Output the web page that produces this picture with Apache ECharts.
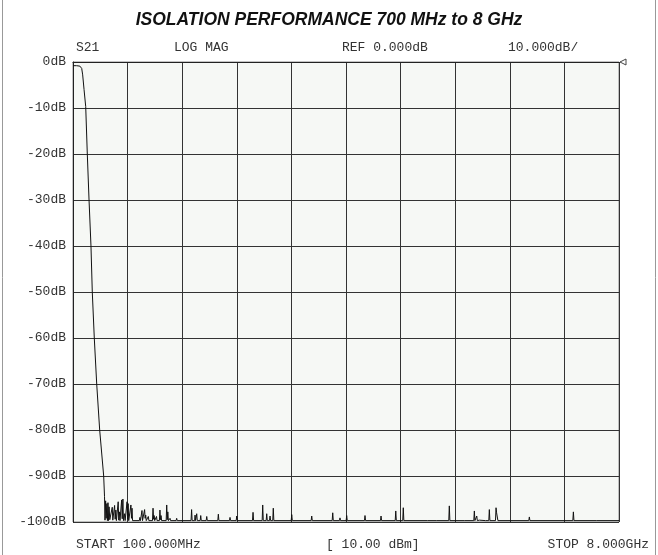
<!DOCTYPE html>
<html><head><meta charset="utf-8">
<script src="https://cdn.jsdelivr.net/npm/echarts@6/dist/echarts.min.js"></script>
<style>html,body{margin:0;padding:0;background:#fff}#c{width:658px;height:555px}</style>
</head><body><div id="c"></div>
<script>
const titleText = 'ISOLATION PERFORMANCE 700 MHz to 8 GHz';
const headerLabels = ['S21', 'LOG MAG', 'REF 0.000dB', '10.000dB/'];
const footerLabels = ['START 100.000MHz', '[ 10.00 dBm]', 'STOP 8.000GHz'];
const yTickValues = [0, -10, -20, -30, -40, -50, -60, -70, -80, -90, -100];
const freqStart = 100, freqStop = 8000, divisions = 10;

const traceFreq = [100,150,200,216,226,240,260,284,307,332,360,379,408,443,486,544,556,563,572,580,590,598,606,614,622,632,660,668,676,694,702,710,720,728,746,754,762,772,780,796,804,812,822,830,846,854,874,882,890,898,906,930,938,946,954,962,1060,1068,1076,1090,1098,1106,1128,1136,1144,1152,1160,1182,1190,1198,1250,1258,1266,1274,1282,1300,1308,1316,1350,1358,1366,1374,1382,1448,1456,1464,1472,1480,1496,1504,1512,1592,1600,1608,1808,1816,1824,1860,1866,1874,1884,1890,1898,1940,1948,1956,2027,2035,2043,2195,2203,2211,2364,2372,2380,2461,2469,2477,2697,2705,2713,2837,2845,2853,2895,2903,2911,2943,2951,2959,2990,2998,3006,3257,3265,3273,3546,3554,3562,3850,3858,3866,3955,3963,3971,4052,4060,4068,4317,4325,4333,4549,4557,4565,4762,4770,4778,4871,4879,4887,5233,5241,5249,5355,5363,5371,5537,5545,5553,5769,5777,5785,5899,5907,5915,5934,5942,5950,5971,5979,5987,6068,6076,6084,6116,6124,6132,6213,6221,6229,6240,6248,6695,6703,6711,7332,7340,7348,7679,7687,7695,8000];
const traceDb = [-0.8,-0.8,-0.9,-0.9,-1.4,-2.8,-6,-9.7,-20,-30,-40,-50,-60,-70,-80,-90,-94.5,-99.6,-95.4,-99.2,-96.0,-99.7,-95.8,-99.7,-96.7,-99.5,-99.7,-96.8,-99.6,-99.7,-96.4,-99.4,-97.4,-99.7,-99.7,-95.6,-99.6,-97.8,-99.7,-99.7,-95.2,-99.3,-95.0,-99.7,-98.2,-99.7,-99.7,-95.6,-99.4,-96.0,-99.7,-99.7,-96.3,-99.2,-97.0,-99.7,-99.7,-99.0,-99.7,-99.7,-97.5,-99.7,-99.7,-97.3,-99.2,-98.5,-99.7,-99.7,-98.8,-99.7,-99.7,-97.0,-99.4,-98.6,-99.7,-99.7,-98.8,-99.7,-99.7,-97.4,-99.5,-98.6,-99.7,-99.7,-96.3,-99.5,-97.8,-99.7,-99.7,-99.2,-99.7,-99.7,-99.2,-99.7,-99.7,-97.3,-99.7,-99.7,-98.5,-99.7,-99.7,-98.2,-99.7,-99.7,-98.6,-99.7,-99.7,-98.8,-99.7,-99.7,-98.3,-99.7,-99.7,-99.0,-99.7,-99.7,-98.7,-99.7,-99.7,-97.9,-99.7,-99.7,-96.3,-99.7,-99.7,-98.2,-99.7,-99.7,-98.7,-99.7,-99.7,-97.0,-99.7,-99.7,-98.4,-99.7,-99.7,-98.7,-99.7,-99.7,-98.0,-99.7,-99.7,-99.1,-99.7,-99.7,-98.6,-99.7,-99.7,-98.6,-99.7,-99.7,-98.7,-99.7,-99.7,-97.6,-99.7,-99.7,-96.9,-99.7,-99.7,-99.3,-99.7,-99.7,-99.3,-99.7,-99.7,-96.5,-99.7,-99.7,-99.3,-99.7,-99.7,-97.6,-99.7,-99.7,-98.7,-99.7,-99.7,-99.6,-99.7,-99.7,-99.3,-99.7,-99.7,-97.3,-99.7,-99.7,-96.9,-98.0,-98.0,-99.7,-99.7,-98.9,-99.7,-99.7,-97.8,-99.7,-99.7,-99.3,-99.7,-99.7];

const mono = 'Liberation Mono, Courier New, monospace';
const chart = echarts.init(document.getElementById('c'), null, {renderer: 'canvas'});
const txt = (s, x, y, align) => ({type: 'text', x: x, y: y, style: {text: s, font: '13px ' + mono, fill: '#333', textAlign: align || 'left', textVerticalAlign: 'middle'}});

chart.setOption({
  animation: false,
  backgroundColor: '#ffffff',
  title: {text: titleText, left: 'center', top: 6, textStyle: {fontFamily: 'Liberation Sans, Arial', fontSize: 17.5, fontWeight: 'bold', fontStyle: 'italic', color: '#111'}},
  grid: {left: 73, right: 39, top: 62, bottom: 33, show: true, backgroundColor: '#f6f8f5', borderColor: '#888', borderWidth: 1},
  xAxis: [
    {type: 'value', min: 0, max: divisions, interval: 1, axisLabel: {show: false}, axisTick: {show: false},
     axisLine: {show: true, lineStyle: {color: '#222', width: 1}},
     splitLine: {show: true, lineStyle: {color: '#333', width: 1}}},
    {type: 'value', min: freqStart, max: freqStop, show: false, position: 'bottom', splitLine: {show: false}}
  ],
  yAxis: {type: 'value', min: -100, max: 0, interval: 10,
    axisLine: {show: true, lineStyle: {color: '#222', width: 1}}, axisTick: {show: false},
    axisLabel: {margin: 7, fontFamily: mono, fontSize: 13, color: '#333', formatter: v => yTickValues.includes(v) ? v + 'dB' : ''},
    splitLine: {show: true, lineStyle: {color: '#333', width: 1}}},
  series: [{
    type: 'line', xAxisIndex: 1, showSymbol: false, symbol: 'none',
    data: traceFreq.map((f, i) => [f, traceDb[i]]),
    lineStyle: {color: '#111', width: 1}, clip: true,
    markPoint: {symbol: 'triangle', symbolSize: [6, 6], symbolRotate: 90, symbolOffset: [4, 0], silent: true,
      label: {show: false}, itemStyle: {color: '#fff', borderColor: '#444', borderWidth: 1},
      data: [{coord: [freqStop, 0]}]}
  }],
  graphic: [
    {type: 'line', shape: {x1: 2.5, y1: 0, x2: 2.5, y2: 555}, style: {stroke: '#999', lineWidth: 1}},
    {type: 'line', shape: {x1: 655.5, y1: 0, x2: 655.5, y2: 555}, style: {stroke: '#999', lineWidth: 1}},
    txt(headerLabels[0], 76, 48), txt(headerLabels[1], 174, 48), txt(headerLabels[2], 342, 48), txt(headerLabels[3], 508, 48),
    txt(footerLabels[0], 76, 545), txt(footerLabels[1], 326, 545), txt(footerLabels[2], 649, 545, 'right')
  ]
});
</script></body></html>
